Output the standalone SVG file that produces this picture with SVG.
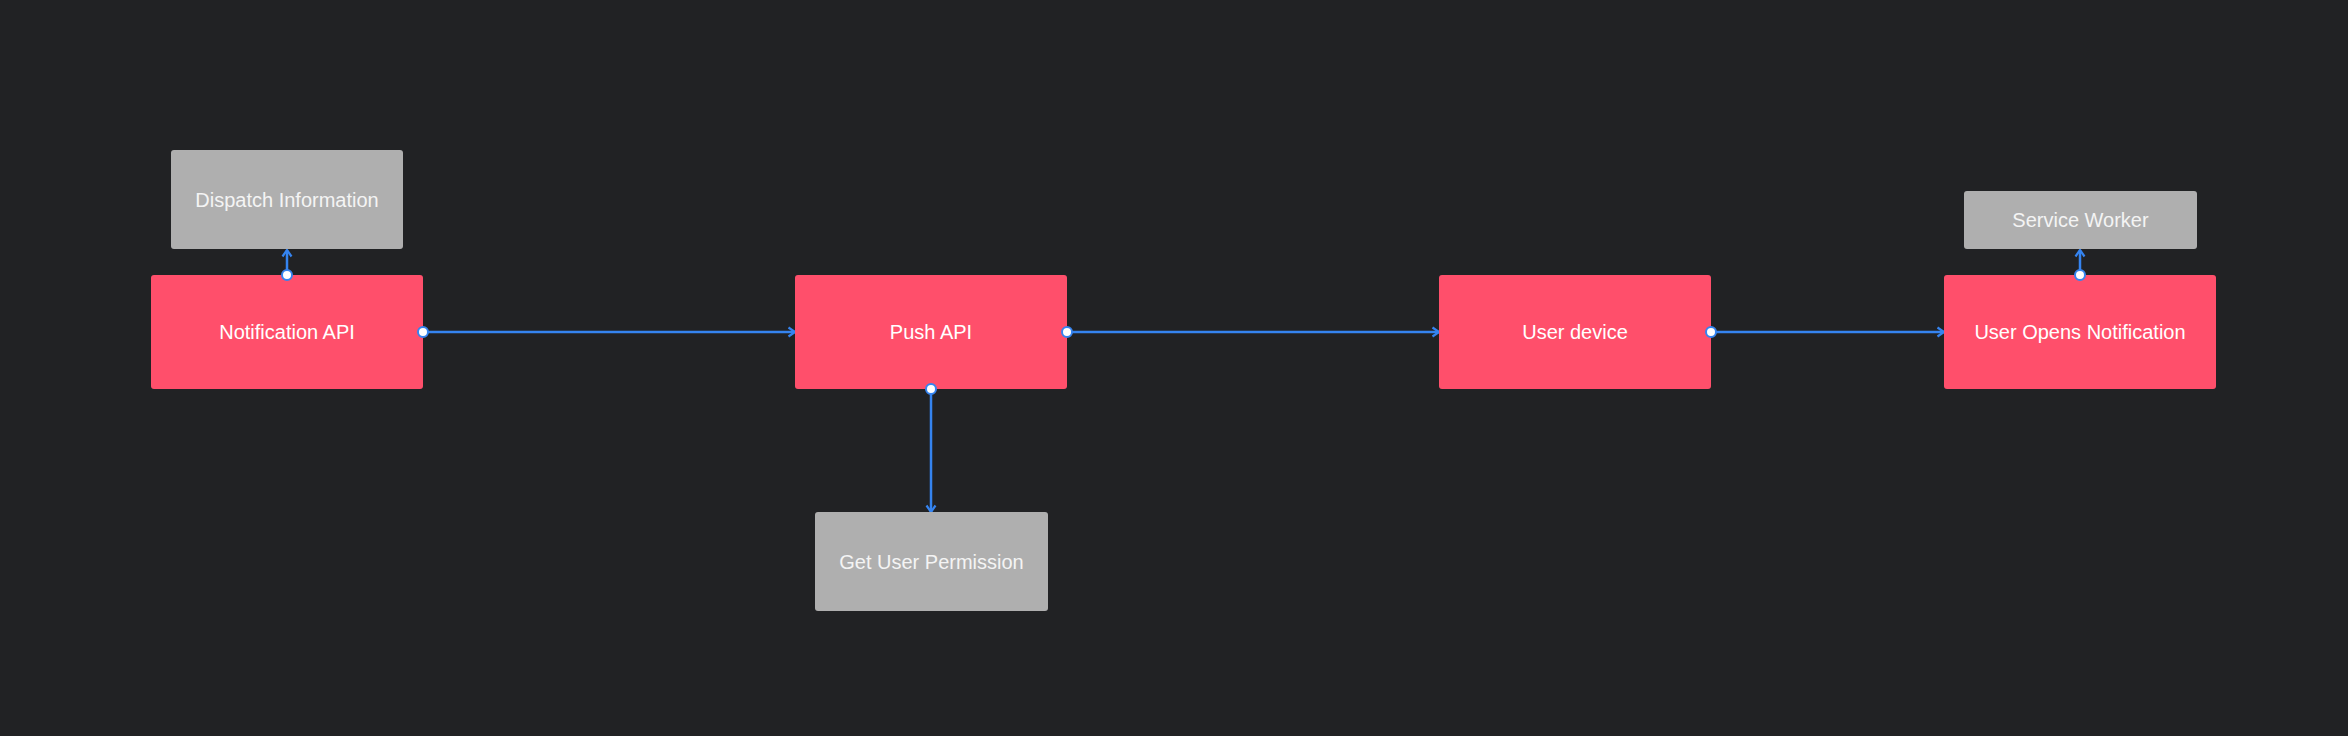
<svg xmlns="http://www.w3.org/2000/svg" width="2348" height="736" viewBox="0 0 2348 736">
<style>
.bg{fill:#212224}
.main{fill:#ff4f6b}
.sub{fill:#afafaf}
.lbl{font-family:"Liberation Sans",Arial,sans-serif;font-size:20px;fill:#ffffff;text-anchor:middle;dominant-baseline:central}
.sublbl{fill:#f4f4f4}
.edge{stroke:#3584f0;stroke-width:2.5;fill:none}
.dot{fill:#ffffff;stroke:#3584f0;stroke-width:2}
</style>
<defs>
<marker id="arr" viewBox="0 0 12 12" markerWidth="12" markerHeight="12" refX="10.5" refY="6" orient="auto" markerUnits="userSpaceOnUse">
<path d="M4,1.5 L10.5,6 L4,10.5" fill="none" stroke="#3584f0" stroke-width="2.2"/>
</marker>
</defs>
<rect class="bg" x="0" y="0" width="2348" height="736"/>
<g id="connectors">
<line class="edge" x1="423" y1="332" x2="795" y2="332" marker-end="url(#arr)"/>
<line class="edge" x1="1067" y1="332" x2="1439" y2="332" marker-end="url(#arr)"/>
<line class="edge" x1="1711" y1="332" x2="1944" y2="332" marker-end="url(#arr)"/>
<line class="edge" x1="287" y1="275" x2="287" y2="250" marker-end="url(#arr)"/>
<line class="edge" x1="931" y1="389" x2="931" y2="512" marker-end="url(#arr)"/>
<line class="edge" x1="2080" y1="275" x2="2080" y2="250" marker-end="url(#arr)"/>
</g>
<g id="node-dispatch">
<rect class="sub" x="171" y="150" width="232" height="99" rx="3"/>
<text class="lbl sublbl" x="287" y="200">Dispatch Information</text>
</g>
<g id="node-notification">
<rect class="main" x="151" y="275" width="272" height="114" rx="3"/>
<text class="lbl" x="287" y="332">Notification API</text>
</g>
<g id="node-push">
<rect class="main" x="795" y="275" width="272" height="114" rx="3"/>
<text class="lbl" x="931" y="332">Push API</text>
</g>
<g id="node-permission">
<rect class="sub" x="815" y="512" width="233" height="99" rx="3"/>
<text class="lbl sublbl" x="931.5" y="562">Get User Permission</text>
</g>
<g id="node-device">
<rect class="main" x="1439" y="275" width="272" height="114" rx="3"/>
<text class="lbl" x="1575" y="332">User device</text>
</g>
<g id="node-opens">
<rect class="main" x="1944" y="275" width="272" height="114" rx="3"/>
<text class="lbl" x="2080" y="332">User Opens Notification</text>
</g>
<g id="node-worker">
<rect class="sub" x="1964" y="191" width="233" height="58" rx="3"/>
<text class="lbl sublbl" x="2080.5" y="220">Service Worker</text>
</g>
<g id="connector-dots">
<circle class="dot" cx="423" cy="332" r="5"/>
<circle class="dot" cx="1067" cy="332" r="5"/>
<circle class="dot" cx="1711" cy="332" r="5"/>
<circle class="dot" cx="287" cy="275" r="5"/>
<circle class="dot" cx="931" cy="389" r="5"/>
<circle class="dot" cx="2080" cy="275" r="5"/>
</g>
</svg>
